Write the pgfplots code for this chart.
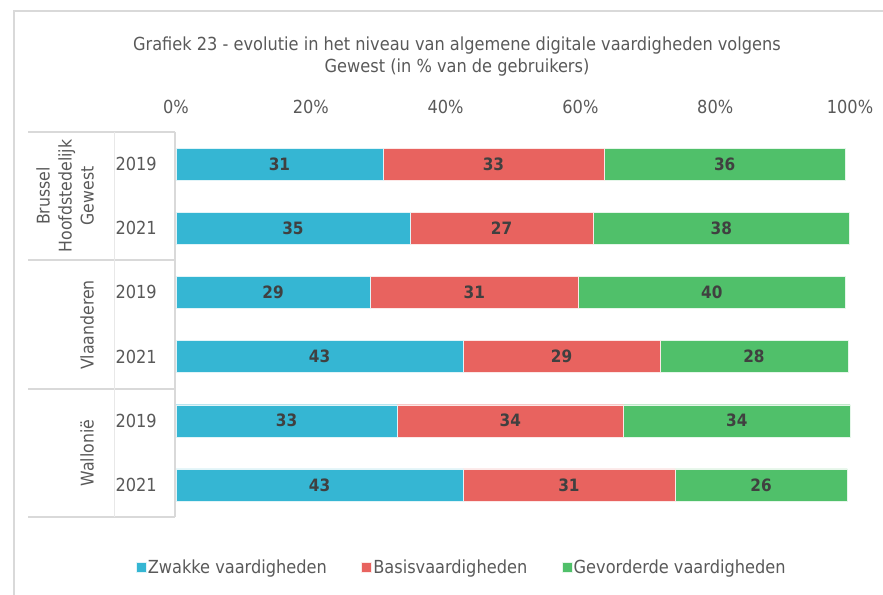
\documentclass[border=0pt]{standalone}
\usepackage{fontspec}
\setmainfont{DejaVu Sans Condensed}
\usepackage{pgfplots}
\usepackage{pgfplotstable}
\pgfplotsset{compat=1.18}
\definecolor{cblue}{RGB}{53,182,211}
\definecolor{cred}{RGB}{232,99,95}
\definecolor{cgreen}{RGB}{80,192,106}
\definecolor{tgray}{RGB}{89,89,89}
\definecolor{lgray}{RGB}{64,64,64}
\definecolor{border}{RGB}{217,217,217}

% y: row position (6 = top), a: Zwakke, b: Basis, c: Gevorderde
\pgfplotstableread{
y a b c
6 30.7 32.8 35.8
5 34.7 27.2 38.0
4 28.8 30.9 39.6
3 42.6 29.2 27.9
2 32.8 33.6 33.6
1 42.6 31.4 25.6
}\data

\begin{document}
\begin{tikzpicture}
\path[use as bounding box] (0bp,0bp) rectangle (883bp,595bp);
% outer chart border
\draw[border, line width=1.5bp] (14bp,0bp) -- (14bp,584bp) -- (883bp,584bp);
% title
\node[align=center, text=tgray, font=\fontsize{18bp}{22bp}\selectfont] at (457bp,538bp)
  {Grafiek 23 - evolutie in het niveau van algemene digitale vaardigheden volgens\\Gewest (in \% van de gebruikers)};

\begin{axis}[
  at={(176bp,78bp)}, anchor=south west,
  scale only axis, width=674bp, height=385bp,
  xmin=0, xmax=100, ymin=0.5, ymax=6.5,
  xbar stacked, bar width=0.5,
  axis line style={draw=none}, major tick length=0pt,
  xtick={0,20,40,60,80,100},
  xticklabels={0\%,20\%,40\%,60\%,80\%,100\%},
  xticklabel pos=upper,
  ytick={1,2,3,4,5,6},
  yticklabels={2021,2019,2021,2019,2021,2019},
  tick label style={font=\fontsize{18bp}{21bp}\selectfont, text=tgray},
  xticklabel style={inner sep=0pt, yshift=18bp},
  yticklabel style={inner sep=0pt, xshift=-19bp},
  clip=false,
  legend style={at={(0.4236,-0.13)}, anchor=center, draw=none, fill=none,
    legend columns=-1, font=\fontsize{18bp}{20bp}\selectfont, text=tgray,
    nodes={inner sep=1.5bp},
    /tikz/every even column/.append style={column sep=33bp}},
  legend image code/.code={\fill[#1] (0bp,-5bp) rectangle (10bp,5bp);},
]
\addplot[fill=cblue, draw=white!85!cblue, line width=0.4bp] table[x=a, y=y]{\data};
\addlegendentry{Zwakke vaardigheden}
\addplot[fill=cred, draw=white!85!cred, line width=0.4bp] table[x=b, y=y]{\data};
\addlegendentry{Basisvaardigheden}
\addplot[fill=cgreen, draw=white!85!cgreen, line width=0.4bp] table[x=c, y=y]{\data};
\addlegendentry{Gevorderde vaardigheden}
\end{axis}

\begin{axis}[
  at={(176bp,78bp)}, anchor=south west,
  scale only axis, width=674bp, height=385bp,
  xmin=0, xmax=100, ymin=0.5, ymax=6.5,
  hide axis, clip=false,
  point meta=explicit,
  nodes near coords={\pgfmathprintnumber[fixed,precision=0,assume math mode=true]{\pgfplotspointmeta}},
  every node near coord/.append style={anchor=center, text=lgray,
    font=\bfseries\fontsize{17bp}{19bp}\selectfont},
]
\addplot[draw=none, no marks] table[x expr=\thisrow{a}/2, y=y, meta=a]{\data};
\addplot[draw=none, no marks] table[x expr=\thisrow{a}+\thisrow{b}/2, y=y, meta=b]{\data};
\addplot[draw=none, no marks] table[x expr=\thisrow{a}+\thisrow{b}+\thisrow{c}/2, y=y, meta=c]{\data};
\end{axis}

% category table lines
\draw[border, line width=1.5bp] (28bp,463bp) -- (175bp,463bp);
\draw[border, line width=1.5bp] (28bp,335bp) -- (175bp,335bp);
\draw[border, line width=1.5bp] (28bp,206bp) -- (175bp,206bp);
\draw[border, line width=1.5bp] (28bp,78bp) -- (175bp,78bp);
\draw[border, line width=1.5bp] (175bp,463bp) -- (175bp,78bp);
\draw[border!60, line width=1bp] (114bp,463bp) -- (114bp,78bp);
% region names
\node[rotate=90, anchor=south, align=center, inner sep=0pt, text=tgray,
  font=\fontsize{17.5bp}{22bp}\selectfont] at (94bp,399bp) {Brussel\\Hoofdstedelijk\\Gewest};
\node[rotate=90, anchor=south, align=center, inner sep=0pt, text=tgray,
  font=\fontsize{17.5bp}{22bp}\selectfont] at (94bp,270bp) {Vlaanderen};
\node[rotate=90, anchor=south, align=center, inner sep=0pt, text=tgray,
  font=\fontsize{17.5bp}{22bp}\selectfont] at (94bp,142bp) {Wallonië};
\end{tikzpicture}
\end{document}
